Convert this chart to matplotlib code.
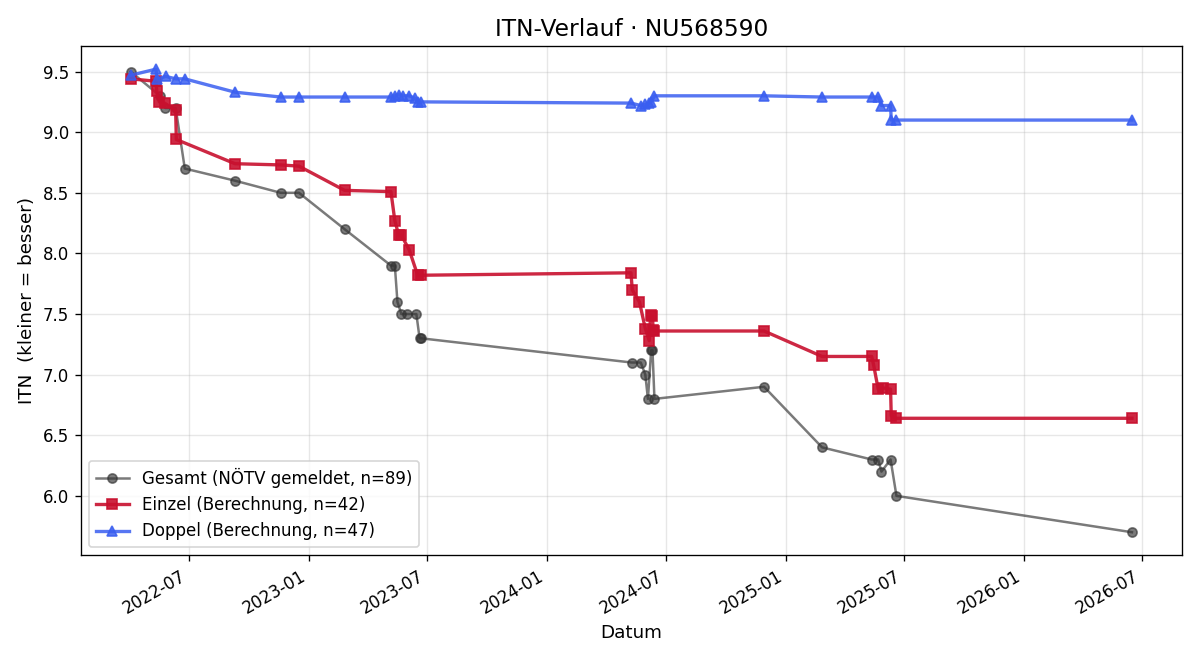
import pandas as pd
import matplotlib
matplotlib.use('Agg')
from matplotlib import pyplot as plt
import matplotlib.dates as mdates

player = 'NU568590'

gesamt_dates = ['2022-04-03', '2022-05-18', '2022-05-26', '2022-06-11', '2022-06-25', '2022-09-10',
                '2022-11-19', '2022-12-17', '2023-02-25', '2023-05-07', '2023-05-13', '2023-05-17',
                '2023-05-23', '2023-06-01', '2023-06-15', '2023-06-20', '2023-06-22', '2024-05-10',
                '2024-05-24', '2024-05-31', '2024-06-04', '2024-06-09', '2024-06-11', '2024-06-14',
                '2024-11-29', '2025-02-26', '2025-05-13', '2025-05-23', '2025-05-28', '2025-06-11',
                '2025-06-20', '2026-06-16']
gesamt_itn = [9.5, 9.3, 9.2, 9.2, 8.7, 8.6,
              8.5, 8.5, 8.2, 7.9, 7.9, 7.6,
              7.5, 7.5, 7.5, 7.3, 7.3, 7.1,
              7.1, 7.0, 6.8, 7.2, 7.2, 6.8,
              6.9, 6.4, 6.3, 6.3, 6.2, 6.3,
              6.0, 5.7]

einzel_dates = ['2022-04-03', '2022-05-12', '2022-05-13', '2022-05-17', '2022-05-25', '2022-06-11',
                '2022-06-12', '2022-09-10', '2022-11-19', '2022-12-17', '2023-02-25', '2023-05-07',
                '2023-05-13', '2023-05-19', '2023-05-23', '2023-06-04', '2023-06-17', '2023-06-22',
                '2024-05-09', '2024-05-11', '2024-05-22', '2024-05-31', '2024-06-06', '2024-06-08',
                '2024-06-11', '2024-06-12', '2024-06-14', '2024-11-29', '2025-02-26', '2025-05-13',
                '2025-05-16', '2025-05-23', '2025-05-31', '2025-06-11', '2025-06-12', '2025-06-20',
                '2026-06-16']
einzel_itn = [9.44, 9.42, 9.34, 9.25, 9.24, 9.18,
              8.94, 8.74, 8.73, 8.72, 8.52, 8.51,
              8.27, 8.15, 8.15, 8.03, 7.82, 7.82,
              7.84, 7.70, 7.60, 7.38, 7.28, 7.49,
              7.48, 7.37, 7.36, 7.36, 7.15, 7.15,
              7.08, 6.88, 6.89, 6.88, 6.66, 6.64,
              6.64]

doppel_dates = ['2022-04-03', '2022-05-12', '2022-05-13', '2022-05-27', '2022-06-11', '2022-06-25',
                '2022-09-10', '2022-11-19', '2022-12-17', '2023-02-25', '2023-05-07', '2023-05-13',
                '2023-05-19', '2023-05-25', '2023-06-04', '2023-06-13', '2023-06-17', '2023-06-22',
                '2024-05-09', '2024-05-24', '2024-05-31', '2024-06-06', '2024-06-09', '2024-06-14',
                '2024-11-29', '2025-02-26', '2025-05-13', '2025-05-23', '2025-05-28', '2025-06-11',
                '2025-06-12', '2025-06-20', '2026-06-16']
doppel_itn = [9.47, 9.52, 9.44, 9.46, 9.44, 9.44,
              9.33, 9.29, 9.29, 9.29, 9.29, 9.30,
              9.31, 9.30, 9.30, 9.28, 9.25, 9.25,
              9.24, 9.22, 9.23, 9.24, 9.25, 9.30,
              9.30, 9.29, 9.29, 9.29, 9.22, 9.22,
              9.10, 9.10, 9.10]

n_gesamt, n_einzel, n_doppel = 89, 42, 47

fig, ax = plt.subplots(figsize=(10, 5.5), dpi=120)

ax.plot(pd.to_datetime(gesamt_dates), gesamt_itn, marker='o', markersize=5.5, linewidth=1.5,
        color='#333333', alpha=0.65, label=f'Gesamt (NÖTV gemeldet, n={n_gesamt})')
ax.plot(pd.to_datetime(einzel_dates), einzel_itn, marker='s', markersize=6.5, linewidth=2,
        color='#c8102e', alpha=0.9, label=f'Einzel (Berechnung, n={n_einzel})')
ax.plot(pd.to_datetime(doppel_dates), doppel_itn, marker='^', markersize=6.5, linewidth=2,
        color='#3a5ef0', alpha=0.85, label=f'Doppel (Berechnung, n={n_doppel})')

ax.set_title(f'ITN-Verlauf · {player}', fontsize=14)
ax.set_xlabel('Datum', fontsize=11)
ax.set_ylabel('ITN  (kleiner = besser)', fontsize=11)
ax.grid(True, alpha=0.3)
ax.xaxis.set_major_locator(mdates.MonthLocator(bymonth=[1, 7]))
ax.xaxis.set_major_formatter(mdates.DateFormatter('%Y-%m'))
ax.legend(loc='lower left')
fig.autofmt_xdate()
fig.tight_layout()
fig.savefig('out.png')
